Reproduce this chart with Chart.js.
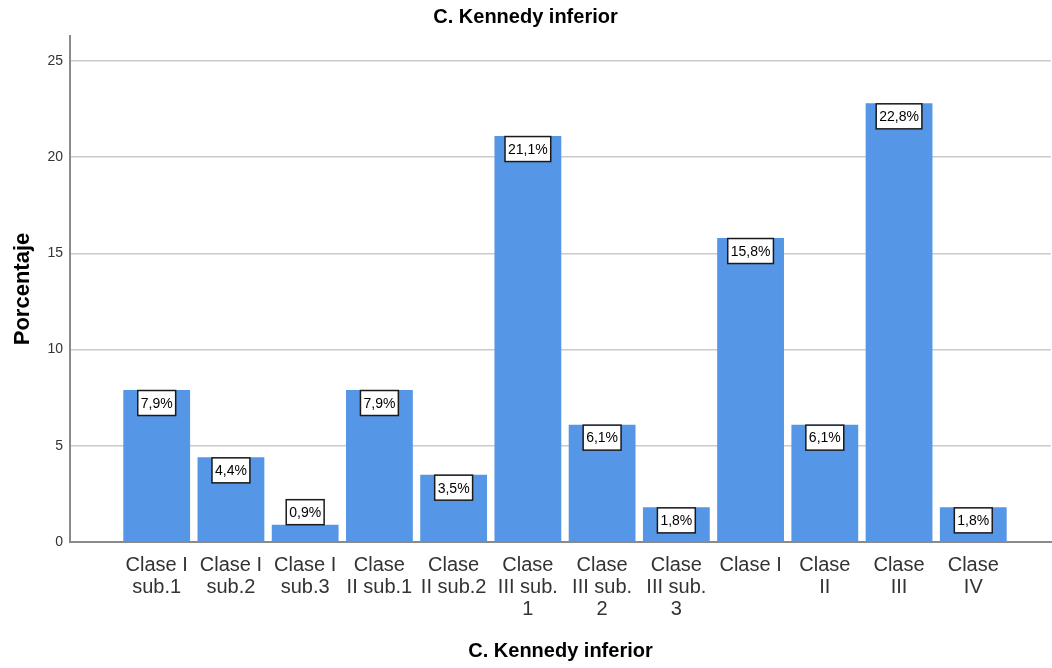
<!DOCTYPE html>
<html>
<head>
<meta charset="utf-8">
<script src="https://cdn.jsdelivr.net/npm/chart.js@4.4.1/dist/chart.umd.min.js"></script>
<style>
  html, body { margin: 0; padding: 0; background: #ffffff; }
  #wrap { width: 1052px; height: 668px; }
</style>
</head>
<body>
<div id="wrap"><canvas id="c" width="1052" height="668"></canvas></div>
<script>
// ---- Data ----
const categories = [
  "Clase I sub.1", "Clase I sub.2", "Clase I sub.3", "Clase II sub.1",
  "Clase II sub.2", "Clase III sub. 1", "Clase III sub. 2", "Clase III sub. 3",
  "Clase I", "Clase II", "Clase III", "Clase IV"
];
const percentages = [7.9, 4.4, 0.9, 7.9, 3.5, 21.1, 6.1, 1.8, 15.8, 6.1, 22.8, 1.8];
const tickLabels = [
  ["Clase I", "sub.1"], ["Clase I", "sub.2"], ["Clase I", "sub.3"], ["Clase", "II sub.1"],
  ["Clase", "II sub.2"], ["Clase", "III sub.", "1"], ["Clase", "III sub.", "2"], ["Clase", "III sub.", "3"],
  ["Clase I"], ["Clase", "II"], ["Clase", "III"], ["Clase", "IV"]
];
const yTicks = [0, 5, 10, 15, 20, 25];
const chartTitle = "C. Kennedy inferior";
const xTitle = "C. Kennedy inferior";
const yTitle = "Porcentaje";

const FONT = "'Liberation Sans', Arial, sans-serif";

const points = categories.map((c, i) => ({ x: i + 1, y: percentages[i] }));

const labelPlugin = {
  id: 'boxLabels',
  afterDatasetsDraw(chart) {
    const ctx = chart.ctx;
    const meta = chart.getDatasetMeta(0);
    ctx.save();
    ctx.font = "14px " + FONT;
    ctx.textAlign = 'center';
    ctx.textBaseline = 'middle';
    meta.data.forEach((bar, i) => {
      const text = percentages[i].toFixed(1).replace('.', ',') + '%';
      const w = ctx.measureText(text).width + 6;
      const h = 25;
      const barH = bar.base - bar.y;
      const top = barH >= h + 2 ? bar.y + 0.5 : bar.y - h;
      const left = bar.x - w / 2;
      ctx.fillStyle = '#ffffff';
      ctx.fillRect(left, top, w, h);
      ctx.lineWidth = 1.5;
      ctx.strokeStyle = '#1a1a1a';
      ctx.strokeRect(left, top, w, h);
      ctx.fillStyle = '#000000';
      ctx.fillText(text, bar.x, top + h / 2 + 1);
    });
    ctx.restore();
  }
};

new Chart(document.getElementById('c'), {
  type: 'bar',
  data: {
    datasets: [{
      data: points,
      backgroundColor: '#5596E6',
      borderWidth: 0,
      barPercentage: 0.9,
      categoryPercentage: 1.0
    }]
  },
  options: {
    responsive: false,
    animation: false,
    devicePixelRatio: 1,
    layout: { padding: { left: 0, right: 1, top: 0, bottom: 0 } },
    plugins: {
      legend: { display: false },
      tooltip: { enabled: false },
      title: {
        display: true,
        text: chartTitle,
        color: '#000000',
        font: { family: FONT, size: 20, weight: 'bold', lineHeight: 1.2 },
        padding: { top: 5, bottom: 7 }
      }
    },
    scales: {
      x: {
        type: 'linear',
        offset: false,
        min: -0.168,
        max: 13.047,
        grid: { display: false, drawTicks: false },
        border: { display: true, color: '#8a8a8a', width: 2 },
        afterBuildTicks(scale) { scale.ticks = categories.map((c, i) => ({ value: i + 1 })); },
        afterFit(scale) { scale.height = 126; },
        ticks: {
          autoSkip: false,
          maxRotation: 0,
          minRotation: 0,
          padding: 12,
          color: '#333333',
          font: { family: FONT, size: 20, lineHeight: 1.1 },
          callback: (value) => tickLabels[Math.round(value) - 1] || ''
        },
        title: {
          display: true,
          text: xTitle,
          color: '#000000',
          font: { family: FONT, size: 20, weight: 'bold', lineHeight: 1.2 },
          padding: { top: 0, bottom: 5 }
        }
      },
      y: {
        type: 'linear',
        min: 0,
        max: 26.3,
        grid: { display: true, color: '#cbcbcb', lineWidth: 1.5, drawTicks: false },
        border: { display: true, color: '#8a8a8a', width: 2 },
        afterBuildTicks(scale) { scale.ticks = yTicks.map(v => ({ value: v })); },
        afterFit(scale) { scale.width = 70; },
        ticks: {
          padding: 7,
          color: '#333333',
          font: { family: FONT, size: 14 }
        },
        title: {
          display: true,
          text: yTitle,
          color: '#000000',
          font: { family: FONT, size: 22, weight: 'bold', lineHeight: 1.2 },
          padding: { top: 10, bottom: 0 }
        }
      }
    }
  },
  plugins: [labelPlugin]
});
</script>
</body>
</html>
